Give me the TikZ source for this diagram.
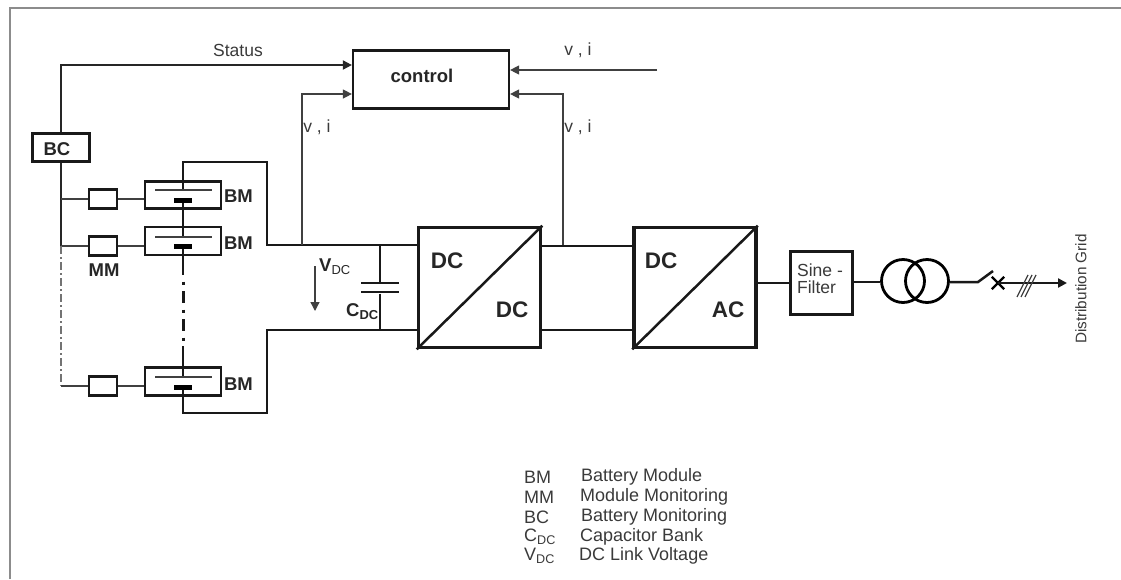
\documentclass[tikz,border=0pt]{standalone}
\usepackage{fontspec}
\setmainfont{Liberation Sans}
\usepackage{xcolor}
\usetikzlibrary{arrows.meta, shapes.misc}
\definecolor{frameGray}{HTML}{8C8C8C}
\definecolor{textGray}{HTML}{3A3A3A}
\tikzset{
wireThin/.style={line width=1.3pt, draw=black!75},
wireMid/.style={line width=1.8pt, draw=black!85},
wire/.style={line width=2.5pt, draw=black!90},
tipMe/.style={-{Triangle[length=9pt,width=9pt]}},
boxMe/.style={draw=black!90, line width=2.2pt, fill=white, inner sep=0pt},
convMe/.style={draw=black!90, line width=3.6pt, fill=white, inner sep=0pt, minimum width=122pt, minimum height=120pt},
plateLong/.style={fill=black!75, inner sep=0pt, minimum width=57pt, minimum height=1.4pt},
plateShort/.style={fill=black, inner sep=0pt, minimum width=18pt, minimum height=5pt},
labelBold/.style={font=\fontsize{18.5}{20}\selectfont\bfseries, text=black!85, inner sep=0pt},
labelBig/.style={font=\fontsize{22.5}{24}\selectfont\bfseries, text=black!85, inner sep=0pt},
labelThin/.style={font=\fontsize{17.5}{18}\selectfont, text=textGray, inner sep=0pt},
legendMe/.style={font=\fontsize{18}{18}\selectfont, text=textGray, inner sep=0pt, anchor=west},
}

\begin{document}
\begin{tikzpicture}[x=1pt,y=-1pt]
    \useasboundingbox (0,0) rectangle (1121,579);
    \draw[frameGray, line width=2pt] (9.5,579) -- (9.5,7.5) -- (1121,7.5);

    \node[boxMe, minimum width=156pt, minimum height=58pt] (control) at (431,79.5) {};
    \node[labelBold] (control_t) at (422,76) {control};
    \node[boxMe, minimum width=57pt, minimum height=28pt] (bc) at (61,147.5) {};
    \node[labelBold] (bc_t) at (57,149) {BC};

    \node[boxMe, minimum width=28pt, minimum height=19pt] (mm_1) at (103,199) {};
    \node[boxMe, minimum width=28pt, minimum height=19pt] (mm_2) at (103,246) {};
    \node[boxMe, minimum width=28pt, minimum height=19pt] (mm_3) at (103,386) {};
    \node[labelBold] (mm_t) at (104,270) {MM};

    \node[boxMe, minimum width=76pt, minimum height=27pt] (bm_1) at (183,195) {};
    \node[boxMe, minimum width=76pt, minimum height=28pt] (bm_2) at (183,241) {};
    \node[boxMe, minimum width=76pt, minimum height=28pt] (bm_3) at (183,381.5) {};
    \node[labelBold] (bm_t1) at (238.5,196) {BM};
    \node[labelBold] (bm_t2) at (238.5,243) {BM};
    \node[labelBold] (bm_t3) at (238.5,384) {BM};

    \node[plateLong] (p_1) at (183,190) {};
    \node[plateShort] (q_1) at (183,200) {};
    \node[plateLong] (p_2) at (183,237) {};
    \node[plateShort] (q_2) at (183,246) {};
    \node[plateLong] (p_3) at (183,377) {};
    \node[plateShort] (q_3) at (183,387) {};

    \coordinate (a_1) at (183,162);
    \coordinate (a_2) at (267,162);
    \coordinate (a_3) at (267,245);
    \coordinate (a_4) at (183,413);
    \coordinate (a_5) at (267,413);
    \coordinate (a_6) at (267,330);
    \coordinate (b_1) at (183,275);
    \coordinate (b_2) at (183,346);
    \coordinate (l_1) at (61,246);
    \coordinate (l_3) at (61,386);

    \node[convMe] (dcdc) at (479.5,287.5) {};
    \node[convMe] (dcac) at (695,287.5) {};
    \node[labelBig] (dcdc_t1) at (447,261) {DC};
    \node[labelBig] (dcdc_t2) at (512,310) {DC};
    \node[labelBig] (dcac_t1) at (661,261) {DC};
    \node[labelBig] (dcac_t2) at (728,310) {AC};
    \draw[wire] (dcdc.south west) -- (dcdc.north east);
    \draw[wire] (dcac.south west) -- (dcac.north east);

    \draw[wireMid, tipMe] (bc.north) |- ([yshift=14.5pt]control.west);
    \draw[wireMid] (bc.south) -- (l_1);
    \draw[wireThin] (bc.south |- mm_1) -- (mm_1.west);
    \draw[wireThin] (l_1) -- (mm_2.west);
    \draw[wireThin] (mm_1.east) -- (bm_1.west |- mm_1);
    \draw[wireThin] (mm_2.east) -- (bm_2.west |- mm_2);
    \draw[wireThin] (mm_3.east) -- (bm_3.west |- mm_3);
    \draw[wireThin, draw=black!55, dash pattern=on 8pt off 3pt on 2pt off 3pt] (l_1) -- (l_3);
    \draw[wireThin] (l_3) -- (mm_3.west);

    \draw[wire] (p_1) -- (a_1) -- (a_2) -- (a_3) -- (dcdc.west |- a_3);
    \draw[wire] (q_1) -- (p_2);
    \draw[wire] (q_2) -- (b_1);
    \draw[wire, line width=3pt, dash pattern=on 12pt off 6.5pt on 3pt off 6.5pt, dash phase=12pt] (b_1) -- (b_2);
    \draw[wire] (b_2) -- (p_3);
    \draw[wire] (q_3) -- (a_4) -- (a_5) -- (a_6) -- (dcdc.west |- a_6);

    \coordinate (j_1) at (302,245);
    \coordinate (j_2) at (380,245);
    \coordinate (j_3) at (380,330);
    \coordinate (j_4) at (563,246);
    \coordinate (v_1) at (657,70);
    \coordinate (v_2) at (315,266);
    \coordinate (v_3) at (315,311);

    \draw[wireThin, tipMe] (j_1) |- ([yshift=-14.5pt]control.west);
    \draw[wireThin, tipMe] (j_4) |- ([yshift=-14.5pt]control.east);
    \draw[wireThin, tipMe] (v_1) -- ([yshift=9.5pt]control.east);
    \draw[wireThin, tipMe] (v_2) -- (v_3);

    \node[plateLong, fill=black!90, minimum width=38pt, minimum height=2.6pt] (c_1) at (380,283) {};
    \node[plateLong, fill=black!90, minimum width=38pt, minimum height=2.6pt] (c_2) at (380,292) {};
    \draw[wire] (j_2) -- (c_1);
    \draw[wire] (c_2) -- (j_3);

    \draw[wire] (dcdc.east |- j_4) -- (dcac.west |- j_4);
    \draw[wire] (dcdc.east |- j_3) -- (dcac.west |- j_3);

    \node[boxMe, line width=3pt, minimum width=62pt, minimum height=63pt] (filter) at (821.5,283) {};
    \node[labelThin, align=left] (filter_t) at (820,278.5) {Sine -\\[-0.5pt]Filter};
    \node[circle, draw=black, line width=2.8pt, inner sep=0pt, minimum size=43pt] (t_1) at (903,281) {};
    \node[circle, draw=black, line width=2.8pt, inner sep=0pt, minimum size=43pt] (t_2) at (927,281) {};
    \coordinate (s_1) at (978,282);
    \coordinate (s_2) at (993,271);
    \node[cross out, draw=black, line width=2.4pt, inner sep=0pt, minimum size=10pt] (x_1) at (998,283) {};
    \coordinate (g_1) at (1067,283);

    \draw[wire] (dcac.east |- filter) -- (filter.west);
    \draw[wire] (filter.east |- s_1) -- (t_1.west |- s_1);
    \draw[wire] (t_2.east |- s_1) -- (s_1) -- (s_2);
    \draw[wire, tipMe] (x_1.center) -- (g_1);
    \draw[wireThin] (1017,297) -- (1028,275) (1021,297) -- (1032,275) (1025,297) -- (1036,275);

    \node[labelThin] (status) at (238,50) {Status};
    \node[labelThin] (vi_1) at (317,127) {v , i};
    \node[labelThin] (vi_2) at (578,127) {v , i};
    \node[labelThin] (vi_3) at (578,50) {v , i};
    \node[labelBold, anchor=west] (vdc) at (319,267) {V\textsubscript{\mdseries DC}};
    \node[labelBold, anchor=west] (cdc) at (346,312) {C\textsubscript{DC}};
    \node[labelThin, font=\fontsize{15.3}{16}\selectfont, rotate=90] (grid) at (1081,289) {Distribution Grid};

    \node[legendMe] (k_1) at (524,477) {BM};
    \node[legendMe] (k_2) at (524,497) {MM};
    \node[legendMe] (k_3) at (524,517) {BC};
    \node[legendMe] (k_4) at (524,537) {C\textsubscript{DC}};
    \node[legendMe] (k_5) at (524,556) {V\textsubscript{DC}};
    \node[legendMe] (d_1) at (581,477) {Battery Module};
    \node[legendMe] (d_2) at (580,497) {Module Monitoring};
    \node[legendMe] (d_3) at (581,517) {Battery Monitoring};
    \node[legendMe] (d_4) at (580,537) {Capacitor Bank};
    \node[legendMe] (d_5) at (579,556) {DC Link Voltage};
\end{tikzpicture}
\end{document}
